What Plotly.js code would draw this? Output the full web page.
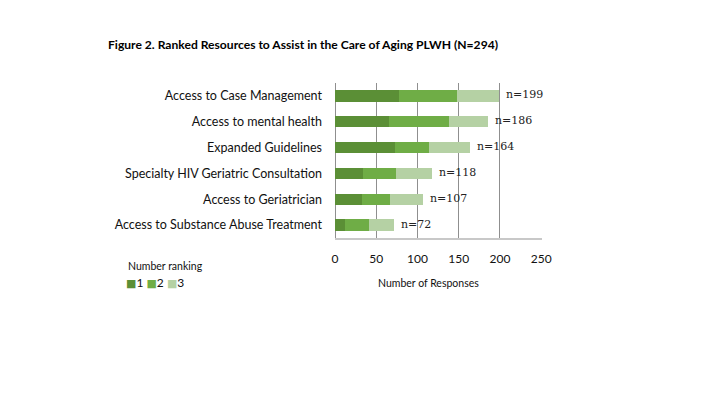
<!DOCTYPE html>
<html>
<head>
<meta charset="utf-8">
<script src="https://cdn.plot.ly/plotly-3.0.1.min.js"></script>
<style>
  html, body { margin: 0; padding: 0; background: #fff; }
  #chart { width: 720px; height: 405px; }
</style>
</head>
<body>
<div id="chart"></div>
<script>
// Resources, listed top to bottom
const resources = [
  "Access to Case Management",
  "Access to mental health",
  "Expanded Guidelines",
  "Specialty HIV Geriatric Consultation",
  "Access to Geriatrician",
  "Access to Substance Abuse Treatment"
];
// Responses ranking each resource 1st, 2nd and 3rd
const rank1 = [78, 66, 73, 34, 33, 12];
const rank2 = [70, 72, 41, 40, 34, 29];
const rank3 = [51, 48, 50, 44, 40, 31];
const rankNames = ["1", "2", "3"];
const xTicks = [0, 50, 100, 150, 200, 250];

const colors = ["#5b8f36", "#6fad46", "#b5d1a4"];
const sansFont = "Lato, 'Liberation Sans', sans-serif";

const series = [rank1, rank2, rank3];
const traces = series.map((vals, i) => ({
  type: "bar",
  orientation: "h",
  name: rankNames[i],
  x: vals,
  y: resources,
  marker: { color: colors[i], line: { width: 0 } },
  showlegend: false,
  hoverinfo: "x+name"
}));

const totals = resources.map((_, k) => rank1[k] + rank2[k] + rank3[k]);

// Total response count to the right of each bar
const totalLabels = resources.map((r, k) => ({
  x: totals[k], y: r, xref: "x", yref: "y",
  text: "n=" + totals[k],
  showarrow: false, xanchor: "left", yanchor: "middle",
  xshift: 5, yshift: 1,
  font: { family: "'DejaVu Serif', 'Liberation Serif', serif", size: 11, color: "#222" }
}));

// Legend drawn as a compact row of colour swatches
const legendRow = rankNames.map((n, i) =>
  "<span style='color:" + colors[i] + ";font-family:DejaVu Sans;font-size:11px'>■</span>" + n
).join(" ");

const annotations = totalLabels.concat([
  {
    text: "Number ranking", xref: "paper", yref: "paper",
    x: -1.01, y: -0.18, xanchor: "left", yanchor: "middle", showarrow: false,
    font: { family: sansFont, size: 10.5, color: "#111" }
  },
  {
    text: legendRow, xref: "paper", yref: "paper",
    x: -1.018, y: -0.29, xanchor: "left", yanchor: "middle", showarrow: false,
    font: { family: sansFont, size: 12, color: "#111" }
  },
  {
    text: "Number of Responses", xref: "paper", yref: "paper",
    x: 0.45, y: -0.29, xanchor: "center", yanchor: "middle", showarrow: false,
    font: { family: sansFont, size: 10.5, color: "#111" }
  }
]);

const layout = {
  width: 720, height: 405,
  paper_bgcolor: "#fff", plot_bgcolor: "#fff",
  margin: { l: 335, r: 178, t: 83, b: 167, pad: 0 },
  barmode: "stack",
  bargap: 0.56,
  title: {
    text: "<b>Figure 2. Ranked Resources to Assist in the Care of Aging PLWH (N=294)</b>",
    font: { family: sansFont, size: 12.1, color: "#000" },
    x: 108 / 720, xanchor: "left", xref: "container",
    y: 1 - 45 / 405, yanchor: "middle", yref: "container"
  },
  xaxis: {
    // a hair of room past 250 keeps the last grid line inside the plot clip
    range: [0, 251],
    tickvals: xTicks,
    ticktext: xTicks.map(String),
    showgrid: true, gridcolor: "#8f8f8f", gridwidth: 1,
    zeroline: true, zerolinecolor: "#8f8f8f", zerolinewidth: 1,
    showline: true, linecolor: "#c8c8c8", linewidth: 1.5,
    ticks: "", ticklabelstandoff: 9,
    tickfont: { family: sansFont, size: 12, color: "#111" },
    fixedrange: true
  },
  yaxis: {
    categoryorder: "array",
    categoryarray: resources.slice().reverse(),
    autorange: true,
    showgrid: false, zeroline: false, showline: false,
    ticks: "", ticklabelstandoff: 12,
    tickfont: { family: sansFont, size: 12.5, color: "#111" },
    fixedrange: true
  },
  annotations: annotations
};

Plotly.newPlot("chart", traces, layout, { displayModeBar: false, staticPlot: true });
</script>
</body>
</html>
